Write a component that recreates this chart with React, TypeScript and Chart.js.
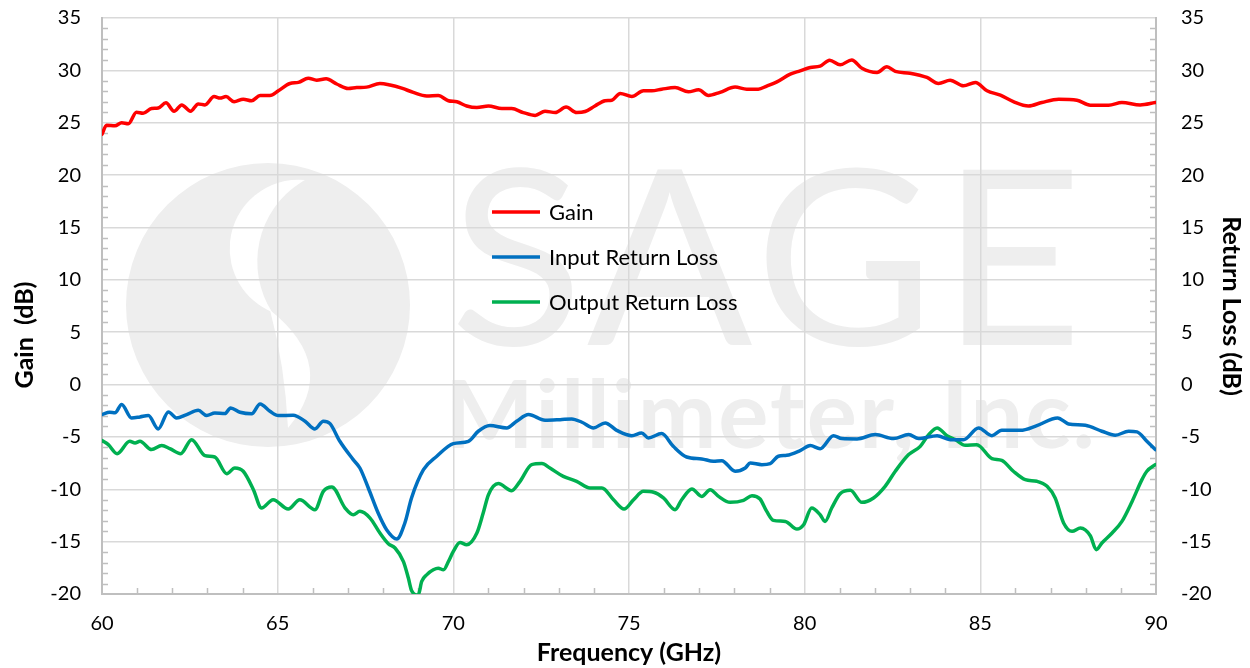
import React, { useEffect, useRef } from "react";
import { Chart, registerables } from "chart.js";

Chart.register(...registerables);

const gainFreq = [60.0, 60.13, 60.37, 60.56, 60.75, 60.98, 61.17, 61.41, 61.6, 61.82, 62.05, 62.27, 62.52, 62.74, 62.93, 63.19, 63.36, 63.53, 63.76, 64.02, 64.26, 64.5, 64.78, 65.02, 65.35, 65.59, 65.87, 66.11, 66.38, 66.68, 67.01, 67.25, 67.53, 67.91, 68.2, 68.53, 68.86, 69.24, 69.57, 69.86, 70.1, 70.38, 70.67, 71.0, 71.38, 71.66, 71.99, 72.33, 72.61, 72.9, 73.21, 73.51, 73.75, 74.03, 74.32, 74.51, 74.75, 75.08, 75.41, 75.65, 75.93, 76.31, 76.69, 76.98, 77.26, 77.59, 78.02, 78.35, 78.68, 78.92, 79.21, 79.59, 79.87, 80.16, 80.44, 80.71, 81.01, 81.34, 81.63, 82.06, 82.34, 82.58, 83.0, 83.48, 83.81, 84.14, 84.52, 84.86, 85.19, 85.57, 85.94, 86.37, 86.75, 87.23, 87.75, 88.13, 88.65, 89.03, 89.55, 89.98];
const gainDb = [23.9, 24.76, 24.7, 25.0, 24.9, 26.0, 25.9, 26.35, 26.4, 26.9, 26.1, 26.7, 26.1, 26.8, 26.7, 27.5, 27.35, 27.5, 27.0, 27.25, 27.1, 27.6, 27.6, 28.05, 28.75, 28.85, 29.25, 29.06, 29.2, 28.7, 28.27, 28.36, 28.4, 28.75, 28.6, 28.3, 27.9, 27.56, 27.6, 27.1, 27.0, 26.6, 26.45, 26.6, 26.35, 26.35, 25.97, 25.7, 26.1, 25.97, 26.5, 25.97, 26.07, 26.6, 27.1, 27.15, 27.8, 27.5, 28.05, 28.05, 28.2, 28.36, 27.95, 28.14, 27.6, 27.9, 28.4, 28.2, 28.2, 28.5, 28.9, 29.64, 29.95, 30.28, 30.4, 30.97, 30.53, 31.0, 30.2, 29.8, 30.34, 29.9, 29.73, 29.32, 28.75, 29.06, 28.52, 28.84, 28.05, 27.63, 27.02, 26.6, 26.93, 27.25, 27.15, 26.67, 26.67, 26.93, 26.7, 26.93];

const inputFreq = [60.0, 60.22, 60.37, 60.56, 60.84, 61.08, 61.32, 61.6, 61.89, 62.12, 62.41, 62.74, 62.98, 63.21, 63.5, 63.66, 63.93, 64.26, 64.5, 64.78, 65.02, 65.44, 65.78, 66.06, 66.3, 66.49, 66.77, 67.15, 67.34, 67.58, 67.86, 68.1, 68.39, 68.62, 68.81, 69.15, 69.53, 70.0, 70.43, 70.71, 71.04, 71.52, 71.8, 72.14, 72.61, 73.04, 73.37, 73.66, 73.99, 74.32, 74.65, 75.08, 75.36, 75.55, 75.93, 76.26, 76.64, 77.07, 77.4, 77.64, 78.02, 78.31, 78.45, 78.78, 79.02, 79.25, 79.49, 79.87, 80.16, 80.44, 80.82, 81.06, 81.49, 82.01, 82.53, 82.96, 83.24, 83.77, 84.14, 84.52, 84.95, 85.33, 85.61, 86.14, 86.61, 87.2, 87.51, 87.99, 88.46, 88.84, 89.22, 89.46, 89.74, 89.98];
const inputRL = [-2.87, -2.65, -2.7, -1.9, -3.19, -3.09, -2.96, -4.24, -2.61, -3.19, -2.87, -2.46, -2.96, -2.71, -2.77, -2.23, -2.65, -2.8, -1.85, -2.55, -2.96, -2.93, -3.5, -4.24, -3.5, -3.73, -5.42, -7.17, -7.97, -9.88, -12.27, -13.86, -14.75, -13.22, -10.83, -8.13, -6.85, -5.64, -5.42, -4.46, -3.92, -4.14, -3.5, -2.87, -3.41, -3.35, -3.28, -3.6, -4.14, -3.66, -4.37, -4.88, -4.62, -5.1, -4.68, -5.9, -6.92, -7.1, -7.33, -7.27, -8.28, -7.97, -7.49, -7.65, -7.55, -6.85, -6.76, -6.31, -5.83, -6.12, -4.88, -5.16, -5.19, -4.78, -5.16, -4.78, -5.16, -4.88, -5.26, -5.26, -4.14, -4.88, -4.37, -4.37, -3.92, -3.19, -3.76, -3.89, -4.46, -4.84, -4.46, -4.52, -5.42, -6.21];

const outputFreq = [60.0, 60.18, 60.43, 60.79, 60.94, 61.08, 61.41, 61.7, 61.93, 62.24, 62.55, 62.93, 63.21, 63.55, 63.78, 64.02, 64.31, 64.54, 64.87, 65.3, 65.63, 66.06, 66.3, 66.54, 66.92, 67.15, 67.34, 67.63, 67.91, 68.15, 68.34, 68.58, 68.72, 68.81, 69.0, 69.1, 69.24, 69.43, 69.57, 69.72, 69.86, 70.0, 70.19, 70.38, 70.67, 70.85, 71.0, 71.28, 71.66, 71.9, 72.23, 72.52, 72.75, 73.13, 73.51, 73.89, 74.23, 74.56, 74.86, 75.13, 75.41, 75.7, 75.98, 76.31, 76.5, 76.79, 77.07, 77.31, 77.55, 77.88, 78.26, 78.5, 78.73, 78.92, 79.11, 79.45, 79.78, 79.97, 80.2, 80.44, 80.58, 80.77, 81.01, 81.3, 81.63, 81.96, 82.29, 82.58, 82.96, 83.29, 83.53, 83.77, 84.05, 84.29, 84.57, 84.9, 85.33, 85.61, 85.94, 86.28, 86.61, 86.9, 87.13, 87.37, 87.61, 87.85, 88.13, 88.3, 88.46, 88.75, 89.03, 89.32, 89.6, 89.74, 89.98];
const outputRL = [-5.35, -5.74, -6.6, -5.42, -5.58, -5.42, -6.21, -5.83, -6.12, -6.6, -5.26, -6.79, -6.92, -8.51, -7.97, -8.28, -10.04, -11.79, -11.0, -11.89, -11.0, -11.95, -10.2, -9.78, -11.79, -12.43, -12.11, -12.75, -14.18, -15.2, -15.61, -16.9, -18.48, -19.66, -20.1, -18.8, -18.17, -17.69, -17.53, -17.69, -16.9, -15.94, -15.08, -15.3, -14.18, -12.27, -10.52, -9.46, -10.13, -9.24, -7.65, -7.55, -7.97, -8.77, -9.24, -9.88, -9.88, -11.0, -11.89, -11.0, -10.2, -10.29, -10.83, -11.95, -11.0, -9.97, -10.68, -10.04, -10.68, -11.25, -11.06, -10.61, -10.93, -12.11, -12.97, -13.07, -13.8, -13.38, -11.79, -12.43, -13.07, -11.79, -10.42, -10.1, -11.25, -10.83, -9.72, -8.28, -6.69, -5.9, -4.78, -4.14, -4.88, -5.26, -5.8, -5.74, -7.07, -7.24, -8.28, -9.08, -9.24, -9.72, -10.83, -13.22, -14.02, -13.7, -14.44, -15.77, -15.13, -14.18, -13.07, -11.16, -9.08, -8.28, -7.65];

const seriesNames = ["Gain", "Input Return Loss", "Output Return Loss"];
const seriesColors = ["#ff0000", "#0070c0", "#00b050"];

const xMin = 60;
const xMax = 90;
const xStep = 5;
const yMin = -20;
const yMax = 35;
const yStep = 5;

const xTitle = "Frequency (GHz)";
const yLeftTitle = "Gain  (dB)";
const yRightTitle = "Return Loss (dB)";
const watermarkTop = "SAGE";
const watermarkBottom = "Millimeter, Inc.";

const FONT = "Lato, 'Open Sans', sans-serif";
const WM = "#eeeeee";

const toPoints = (xs: number[], ys: number[]) => xs.map((x, i) => ({ x, y: ys[i] }));

const decorPlugin = {
  id: "decor",
  beforeDraw(chart: any) {
    const { ctx, chartArea: ca } = chart;
    ctx.save();
    // logo circle
    const cx = ca.left + 166;
    const cy = ca.top + 287;
    const r = 142;
    ctx.beginPath();
    ctx.arc(cx, cy, r, 0, Math.PI * 2);
    ctx.fillStyle = WM;
    ctx.fill();
    ctx.fillStyle = "#ffffff";
    // upper crescent (between two arcs meeting at tips A and B)
    const A = [cx + 37, cy - 125];
    const B = [cx + 4, cy + 7];
    const w1 = [cx + 30.5, cy - 56.5, 68.8];
    const g1 = [cx + 82.9, cy - 43.4, 93.6];
    const ang = (c: number[], p: number[]) => Math.atan2(p[1] - c[1], p[0] - c[0]);
    ctx.beginPath();
    ctx.arc(w1[0], w1[1], w1[2], ang(w1, A), ang(w1, B), true);
    ctx.arc(g1[0], g1[1], g1[2], ang(g1, B), ang(g1, A), false);
    ctx.closePath();
    ctx.fill();
    // lower crescent
    const T = [cx + 2, cy + 5];
    const U = [cx + 20, cy + 123];
    ctx.beginPath();
    ctx.moveTo(T[0], T[1]);
    ctx.quadraticCurveTo(cx + 72, cy + 61, U[0], U[1]);
    ctx.quadraticCurveTo(cx + 17, cy + 61, T[0], T[1]);
    ctx.closePath();
    ctx.fill();
    ctx.restore();
    ctx.save();
    // text
    ctx.fillStyle = WM;
    ctx.textBaseline = "alphabetic";
    ctx.textAlign = "left";
    try { ctx.letterSpacing = "7px"; } catch (e) {}
    ctx.font = `245px ${FONT}`;
    ctx.fillText(watermarkTop, ca.left + 348, ca.top + 327, 640);
    try { ctx.letterSpacing = "2px"; } catch (e) {}
    ctx.font = `bold 94px ${FONT}`;
    ctx.fillText(watermarkBottom, ca.left + 343, ca.top + 430, 655);
    ctx.restore();
  },
  beforeDatasetsDraw(chart: any) {
    const { ctx, chartArea: ca, scales } = chart;
    const y = scales.y;
    const x = scales.x;
    ctx.save();
    ctx.strokeStyle = "#bfbfbf";
    ctx.lineWidth = 1.5;
    const len = 6;
    ctx.beginPath();
    for (let v = yMin; v <= yMax; v += 1) {
      if (v % yStep === 0) continue;
      const py = Math.round(y.getPixelForValue(v)) + 0.5;
      ctx.moveTo(ca.left, py);
      ctx.lineTo(ca.left + len, py);
      ctx.moveTo(ca.right, py);
      ctx.lineTo(ca.right - len, py);
    }
    for (let v = xMin; v <= xMax; v += 1) {
      if (v % xStep === 0) continue;
      const px = Math.round(x.getPixelForValue(v)) + 0.5;
      ctx.moveTo(px, ca.bottom);
      ctx.lineTo(px, ca.bottom - len);
    }
    ctx.stroke();
    ctx.restore();
  },
  afterDatasetsDraw(chart: any) {
    const { ctx, chartArea: ca } = chart;
    ctx.save();
    const x0 = ca.left + 390;
    const y0 = ca.top + 194;
    const gap = 45;
    ctx.font = `22px ${FONT}`;
    ctx.textBaseline = "middle";
    ctx.textAlign = "left";
    chart.data.datasets.forEach((ds: any, i: number) => {
      const yy = y0 + i * gap;
      ctx.strokeStyle = ds.borderColor;
      ctx.lineWidth = 3.5;
      ctx.beginPath();
      ctx.moveTo(x0, yy);
      ctx.lineTo(x0 + 48, yy);
      ctx.stroke();
      ctx.fillStyle = "#000";
      ctx.fillText(ds.label, x0 + 57, yy + 1);
    });
    // left axis title (placed slightly below the axis centre, as in the original)
    ctx.translate(25, ca.top + 317);
    ctx.rotate(-Math.PI / 2);
    ctx.font = `bold 25px ${FONT}`;
    ctx.textAlign = "center";
    ctx.fillText(yLeftTitle, 0, 0);
    ctx.restore();
  },
};

const fixScale = (w: number | null, h: number | null) => (s: any) => {
  if (w !== null) s.width = w;
  if (h !== null) s.height = h;
  s.paddingTop = 0;
  s.paddingBottom = 0;
  s.paddingLeft = 0;
  s.paddingRight = 0;
};

export default function App() {
  const ref = useRef<HTMLCanvasElement | null>(null);
  useEffect(() => {
    document.body.style.margin = "0";
    const canvas = ref.current;
    if (!canvas) return;
    const tickFont = { family: FONT, size: 20 };
    const titleFont = { family: FONT, size: 25, weight: "bold" as const };
    const chart = new Chart(canvas, {
      type: "line",
      data: {
        datasets: [
          { label: seriesNames[0], data: toPoints(gainFreq, gainDb), yAxisID: "y" },
          { label: seriesNames[1], data: toPoints(inputFreq, inputRL), yAxisID: "y2" },
          { label: seriesNames[2], data: toPoints(outputFreq, outputRL), yAxisID: "y2" },
        ].map((d, i) => ({
          ...d,
          borderColor: seriesColors[i],
          backgroundColor: seriesColors[i],
          borderWidth: 3.5,
          pointRadius: 0,
          fill: false,
          cubicInterpolationMode: "monotone" as const,
          borderJoinStyle: "round" as const,
          borderCapStyle: "round" as const,
        })),
      },
      options: {
        animation: false,
        responsive: true,
        maintainAspectRatio: false,
        layout: { padding: { top: 18, left: 0, right: 0, bottom: 0 } },
        plugins: { legend: { display: false }, tooltip: { enabled: false } },
        scales: {
          x: {
            type: "linear",
            min: xMin,
            max: xMax,
            ticks: { stepSize: xStep, font: tickFont, color: "#000", padding: 18 },
            grid: { color: "#d9d9d9", lineWidth: 1.5, drawTicks: false },
            border: { color: "#bfbfbf", width: 2 },
            title: { display: true, text: xTitle, font: titleFont, color: "#000", padding: { top: 0, bottom: 0 } },
            afterFit: fixScale(null, 74),
          },
          y: {
            position: "left",
            min: yMin,
            max: yMax,
            ticks: { stepSize: yStep, font: tickFont, color: "#000", padding: 21 },
            grid: { color: "#d9d9d9", lineWidth: 1.5, drawTicks: false },
            border: { color: "#bfbfbf", width: 2 },
            title: { display: false, text: yLeftTitle },
            afterFit: fixScale(102, null),
          },
          y2: {
            position: "right",
            min: yMin,
            max: yMax,
            ticks: { stepSize: yStep, font: tickFont, color: "#000", padding: 25 },
            grid: { drawOnChartArea: false, drawTicks: false },
            border: { color: "#bfbfbf", width: 2 },
            title: { display: true, text: yRightTitle, font: titleFont, color: "#000", padding: { top: 4, bottom: 0 } },
            afterFit: fixScale(94, null),
          },
        },
      },
      plugins: [decorPlugin],
    });
    return () => chart.destroy();
  }, []);
  return (
    <div style={{ width: 1250, height: 668, position: "relative" }}>
      <canvas ref={ref} />
    </div>
  );
}
